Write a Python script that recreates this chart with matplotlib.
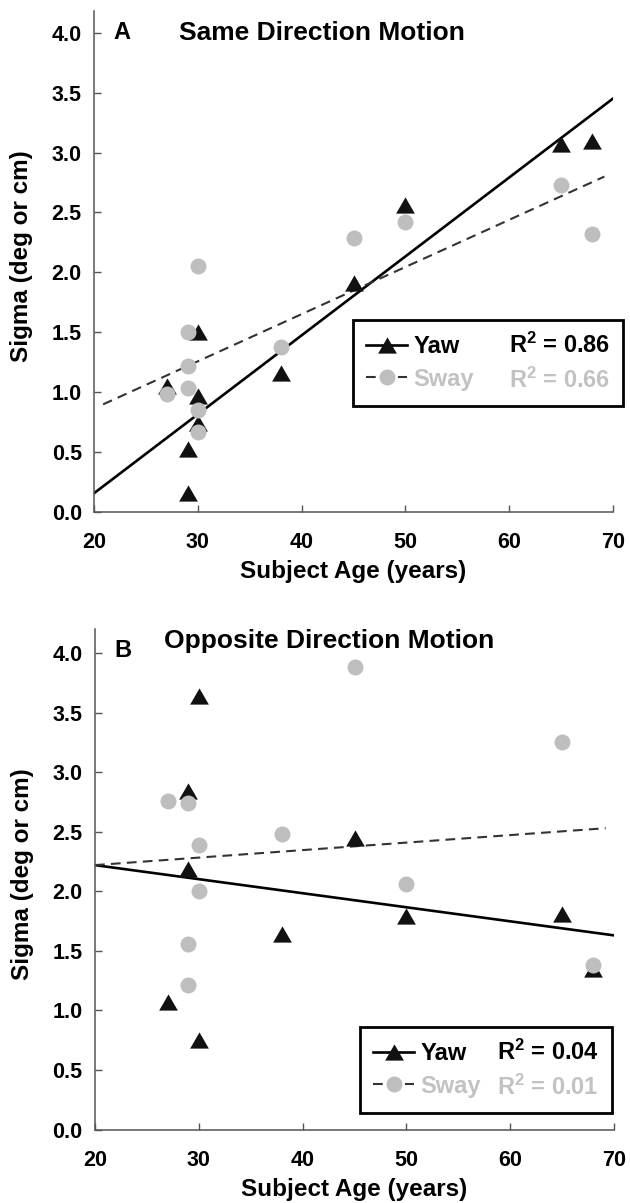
import matplotlib
matplotlib.use('Agg')
import matplotlib.pyplot as plt
from matplotlib.lines import Line2D

plt.rcParams['font.family'] = ['Liberation Sans', 'DejaVu Sans']
plt.rcParams['font.weight'] = 'bold'
plt.rcParams['mathtext.fontset'] = 'custom'
plt.rcParams['mathtext.rm'] = 'Liberation Sans:bold'
plt.rcParams['mathtext.bf'] = 'Liberation Sans:bold'
plt.rcParams['mathtext.default'] = 'bf'
plt.rcParams['lines.scale_dashes'] = False

# panel A - same direction motion
a_yaw_age = [27, 29, 29, 30, 30, 30, 38, 45, 50, 65, 68]
a_yaw_sigma = [1.05, 0.52, 0.16, 1.50, 0.97, 0.74, 1.16, 1.91, 2.56, 3.07, 3.10]
a_sway_age = [27, 29, 29, 29, 30, 30, 30, 38, 45, 50, 65, 68]
a_sway_sigma = [0.98, 1.50, 1.22, 1.03, 2.05, 0.85, 0.67, 1.38, 2.29, 2.42, 2.73, 2.32]
a_yaw_fit_x = [20, 70]
a_yaw_fit_y = [0.156, 3.45]
a_sway_fit_x = [20.85, 69.2]
a_sway_fit_y = [0.897, 2.80]
a_r2 = ['0.86', '0.66']

# panel B - opposite direction motion
b_yaw_age = [27, 29, 29, 30, 30, 38, 45, 50, 65, 68]
b_yaw_sigma = [1.07, 2.84, 2.19, 3.64, 0.75, 1.64, 2.45, 1.79, 1.81, 1.35]
b_sway_age = [27, 29, 29, 29, 30, 30, 38, 45, 50, 65, 68]
b_sway_sigma = [2.76, 2.74, 1.56, 1.21, 2.39, 2.00, 2.48, 3.88, 2.06, 3.25, 1.38]
b_yaw_fit_x = [20, 70]
b_yaw_fit_y = [2.22, 1.63]
b_sway_fit_x = [20, 69.2]
b_sway_fit_y = [2.22, 2.53]
b_r2 = ['0.04', '0.01']

x_ticks = [20, 30, 40, 50, 60, 70]
y_ticks = [0.0, 0.5, 1.0, 1.5, 2.0, 2.5, 3.0, 3.5, 4.0]

YAW_C = '#111111'
SWAY_C = '#bebebe'
SWAY_TXT = '#c2c2c2'
FIT_DASH = '#333333'
AXIS_C = '#555555'
# equilateral triangle, centred on its bounding box
TRI = [(-1, -0.866), (1, -0.866), (0, 0.866), (-1, -0.866)]

W, H = 630, 1203
fig = plt.figure(figsize=(W / 100, H / 100), dpi=100)


def px_rect(x0, x1, y_top, y_bot):
    return [x0 / W, 1 - y_bot / H, (x1 - x0) / W, (y_bot - y_top) / H]


def draw_panel(ax, yaw_x, yaw_y, sway_x, sway_y, yfx, yfy, sfx, sfy, r2,
               letter, title, letter_xy, title_xy, leg_xy, leg_colsp,
               ylim_top):
    ax.plot(yfx, yfy, color='black', lw=1.9, zorder=2)
    ax.plot(sfx, sfy, color=FIT_DASH, lw=1.5, dashes=(7, 4.5), zorder=2)
    ax.plot(yaw_x, yaw_y, ls='none', marker=TRI, ms=13.5, color=YAW_C,
            mec=YAW_C, mew=0, zorder=3)
    ax.plot(sway_x, sway_y, ls='none', marker='o', ms=11.5, color=SWAY_C,
            mec=SWAY_C, mew=0, zorder=4)

    ax.set_xlim(20, 70)
    ax.set_ylim(0, ylim_top)
    ax.set_xticks(x_ticks)
    ax.set_yticks(y_ticks)
    ax.set_yticklabels([f'{v:.1f}' for v in y_ticks])
    for s in ['top', 'right']:
        ax.spines[s].set_visible(False)
    for s in ['left', 'bottom']:
        ax.spines[s].set_color(AXIS_C)
        ax.spines[s].set_linewidth(1.1)
    ax.tick_params(direction='in', length=5, width=1, color=AXIS_C,
                   labelsize=15.5)
    ax.tick_params(axis='x', pad=14.5)
    ax.tick_params(axis='y', pad=9)

    ax.set_xlabel('Subject Age (years)', fontsize=17.5, fontweight='bold',
                  va='center')
    ax.set_ylabel('Sigma (deg or cm)', fontsize=17.5, fontweight='bold',
                  va='center')
    ax.xaxis.set_label_coords(0.5, -0.12)
    ax.yaxis.set_label_coords(-0.14, 0.51)

    ax.text(letter_xy[0], letter_xy[1], letter, fontsize=17,
            fontweight='bold', ha='center', va='center')
    ax.text(title_xy[0], title_xy[1], title, fontsize=19, fontweight='bold',
            ha='left', va='center')

    h_yaw = Line2D([], [], color='black', lw=1.9, marker=TRI, ms=13.5,
                   mfc=YAW_C, mec=YAW_C, mew=0)
    h_sway = Line2D([], [], color=FIT_DASH, lw=1.5, dashes=(7, 4.5),
                    marker='o', ms=11.5, mfc=SWAY_C, mec=SWAY_C, mew=0)
    blank = Line2D([], [], alpha=0)
    leg = ax.legend([h_yaw, h_sway, blank, blank],
                    ['Yaw', 'Sway', f'R$^2$ = {r2[0]}', f'R$^2$ = {r2[1]}'],
                    ncol=2, loc='upper left',
                    bbox_to_anchor=(leg_xy[0] / W, 1 - leg_xy[1] / H),
                    bbox_transform=fig.transFigure, borderaxespad=0,
                    prop={'size': 17, 'weight': 'bold'},
                    labelcolor=['black', SWAY_TXT, 'black', SWAY_TXT],
                    handlelength=1.75, handletextpad=0.25,
                    columnspacing=leg_colsp, labelspacing=0.4,
                    borderpad=0.55, fancybox=False, framealpha=1)
    leg.get_frame().set_edgecolor('black')
    leg.get_frame().set_linewidth(2)


ax_a = fig.add_axes(px_rect(94.3, 612.7, 11.4, 511.7))
draw_panel(ax_a, a_yaw_age, a_yaw_sigma, a_sway_age, a_sway_sigma,
           a_yaw_fit_x, a_yaw_fit_y, a_sway_fit_x, a_sway_fit_y, a_r2,
           'A', 'Same Direction Motion', (22.7, 4.0), (28.2, 4.0),
           (353, 320), -0.5, 4.18)

ax_b = fig.add_axes(px_rect(95, 614, 629.3, 1129.5))
draw_panel(ax_b, b_yaw_age, b_yaw_sigma, b_sway_age, b_sway_sigma,
           b_yaw_fit_x, b_yaw_fit_y, b_sway_fit_x, b_sway_fit_y, b_r2,
           'B', 'Opposite Direction Motion', (22.67, 4.02), (26.6, 4.10),
           (360, 1027), -1.3, 4.2)

fig.savefig('out.png', dpi=100)
